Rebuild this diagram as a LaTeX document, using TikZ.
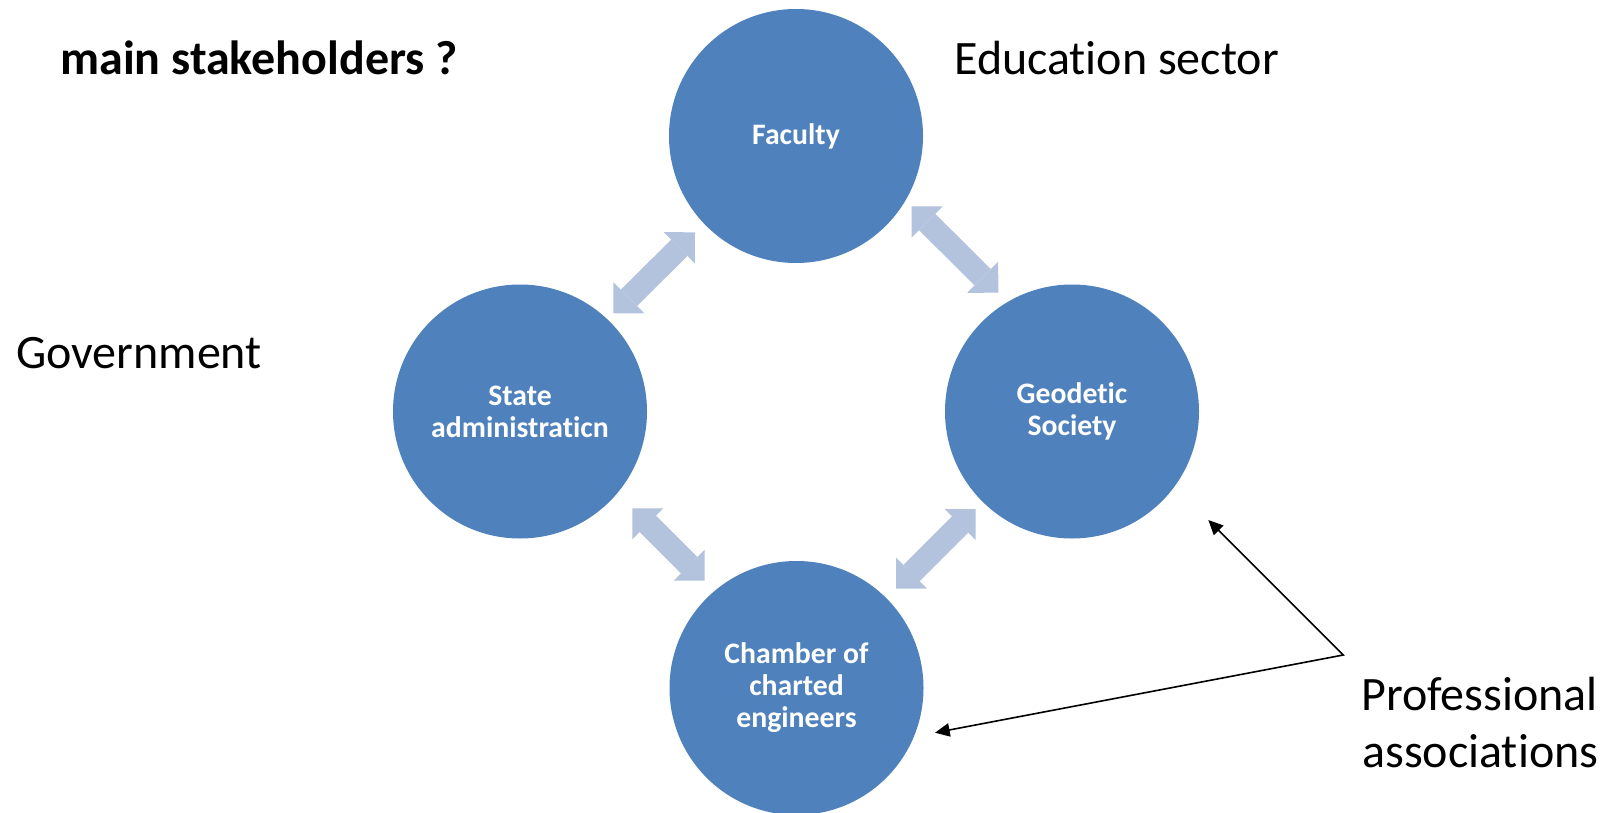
\documentclass[tikz,border=0pt]{standalone}
\usepackage{fontspec}
\setmainfont{Carlito}[Ligatures=NoCommon]
\usetikzlibrary{arrows.meta}
\definecolor{circ}{HTML}{4F81BD}
\definecolor{arrc}{HTML}{B3C2DD}
\begin{document}
\begin{tikzpicture}[x=0.75pt,y=-0.75pt,
  stake/.style={circle,fill=circ,minimum size=190.5pt,inner sep=0pt,text=white,
    font=\fontsize{22.3}{24}\selectfont\bfseries,align=center},
  dbl/.style={line width=17.25pt,draw=arrc,
    {Triangle[length=16.5pt,width=33pt,line width=0pt]}-{Triangle[length=16.5pt,width=33pt,line width=0pt]}},
  ptr/.style={line width=1.2pt,draw=black,
    {Triangle[length=11pt,width=10pt]}-{Triangle[length=11pt,width=10pt]}},
  lbl/.style={inner sep=0pt,anchor=base west,font=\fontsize{36}{43}\selectfont}]
\useasboundingbox[fill=white] (0,0) rectangle (1610,813);

% stakeholder circles
\node[stake] (fac) at (796,136) {Faculty};
\node[stake] (sta) at (520,411.5) {State\\administraticn};
\node[stake] (geo) at (1072,411.5) {Geodetic\\Society};
\node[stake] (cha) at (796.5,688) {Chamber of\\charted\\engineers};

% ends of the double arrows
\coordinate (fs1) at (695,232.3);   \coordinate (fs2) at (613.3,313.3);
\coordinate (fg1) at (911.5,206.5); \coordinate (fg2) at (998.3,292.7);
\coordinate (sc1) at (632.3,508.3); \coordinate (sc2) at (704.7,580.7);
\coordinate (gc1) at (975.7,509);   \coordinate (gc2) at (896,588.7);
\draw[dbl] (fs1) -- (fs2);
\draw[dbl] (fg1) -- (fg2);
\draw[dbl] (sc1) -- (sc2);
\draw[dbl] (gc1) -- (gc2);

% labels
\node[lbl,font=\fontsize{36}{43}\selectfont\bfseries] (title) at (60,75) {main stakeholders ?};
\node[lbl] (edu) at (954,75) {Education sector};
\node[lbl] (gov) at (16,368) {Government};
\node[lbl] (pa1) at (1361,710) {Professional};
\node[lbl] (pa2) at (1362,767) {associations};

% pointer arrows
\coordinate (pv) at (1343.3,655);
\coordinate (pt1) at (1208.3,520);
\coordinate (pt2) at (935,732.7);
\draw[ptr] (pt1) -- (pv) -- (pt2);
\end{tikzpicture}
\end{document}
